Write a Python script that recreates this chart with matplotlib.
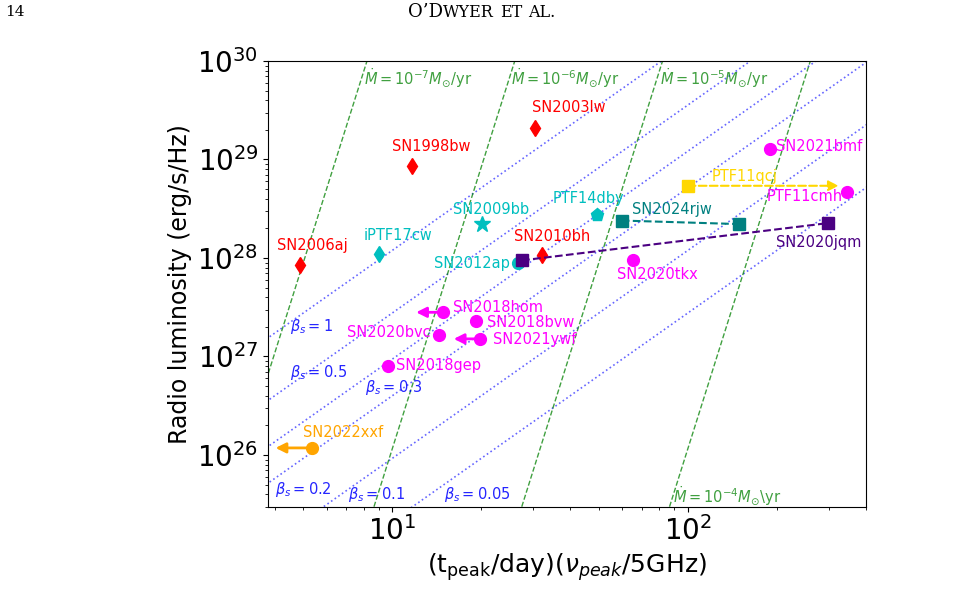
import numpy as np
import matplotlib
matplotlib.use("Agg")
import matplotlib.pyplot as plt

# ===== axis ranges =====
XLIM = (3.8, 400)
YLIM = (3e25, 1e30)

# ===== GRB-SNe (red diamonds) =====
RED_NAMES = ["SN2006aj", "SN1998bw", "SN2003lw", "SN2010bh"]
RED_X = [4.86, 11.7, 30.5, 32.1]
RED_L = [8.4e27, 8.5e28, 2.1e29, 1.08e28]

# ===== relativistic Ic-BL (cyan) =====
CYAN_NAMES = ["iPTF17cw", "SN2009bb", "SN2012ap", "PTF14dby"]
CYAN_X = [8.99, 20.2, 26.6, 49.5]
CYAN_L = [1.106e28, 2.23e28, 9.0e27, 2.75e28]

# ===== Ic-BL detections (magenta) =====
MAG_NAMES = ["SN2021bmf", "PTF11cmh", "SN2020tkx", "SN2018hom",
             "SN2018bvw", "SN2020bvc", "SN2021ywf", "SN2018gep"]
MAG_X = [190, 346, 65.5, 14.9, 19.2, 14.4, 19.8, 9.66]
MAG_L = [1.28e29, 4.63e28, 9.6e27, 2.81e27, 2.28e27, 1.67e27, 1.51e27, 7.96e26]
# upper limits in x -> arrow to the left
MAG_UL_NAMES = ["SN2018hom", "SN2021ywf"]
MAG_UL_XEND = [12.05, 16.15]

# ===== single objects =====
QCJ_X = [100, 324]          # PTF11qcj, lower limit -> arrow right
QCJ_L = 5.41e28
XXF_X = [5.34, 4.03]        # SN2022xxf, upper limit -> arrow left
XXF_L = 1.18e26
RJW_X = [59.8, 149]         # SN2024rjw, two epochs
RJW_L = [2.40e28, 2.21e28]
JQM_X = [27.5, 298]         # SN2020jqm, two epochs
JQM_L = [9.46e27, 2.26e28]

# ===== model lines =====
BETA_S = [1, 0.5, 0.3, 0.2, 0.1, 0.05]
BETA1_X_AT_1E30 = 81.5      # x where beta_s=1 crosses L=1e30
MDOT = [1e-7, 1e-6, 1e-5, 1e-4]
MDOT7_X_AT_1E28 = 5.06      # x where Mdot=1e-7 crosses L=1e28

BETA_LABELS = [r"$\beta_s=1$", r"$\beta_s=0.5$", r"$\beta_s=0.3$",
               r"$\beta_s=0.2$", r"$\beta_s=0.1$", r"$\beta_s=0.05$"]
MDOT_LABELS = [r"$\dot{M}=10^{-7}M_{\odot}$/yr", r"$\dot{M}=10^{-6}M_{\odot}$/yr",
               r"$\dot{M}=10^{-5}M_{\odot}$/yr", r"$\dot{M}=10^{-4}M_{\odot}$\yr"]

# text anchors (left / centre) in data coords
BETA_TXT = [(4.52, 2.02e27), (4.52, 6.92e26), (8.06, 4.8e26),
            (4.0, 4.44e25), (7.06, 3.95e25), (15.0, 3.95e25)]
MDOT_TXT = [(8.0, 6.6e29), (25.3, 6.6e29), (80.4, 6.6e29), (89, 3.8e25)]
NAME_TXT = {
    "SN2006aj": (4.07, 1.33e28), "SN1998bw": (10.0, 1.34e29),
    "SN2003lw": (29.8, 3.34e29), "SN2010bh": (25.9, 1.66e28),
    "iPTF17cw": (8.02, 1.68e28), "SN2009bb": (16.0, 3.09e28),
    "SN2012ap": (13.8, 8.75e27), "PTF14dby": (34.9, 4.06e28),
    "SN2024rjw": (64.7, 3.09e28), "PTF11qcj": (120.2, 6.72e28),
    "SN2021bmf": (199.2, 1.34e29), "PTF11cmh": (184.9, 4.21e28),
    "SN2020jqm": (199.2, 1.42e28), "SN2020tkx": (57.8, 6.77e27),
    "SN2018hom": (16.0, 3.11e27), "SN2018bvw": (20.9, 2.22e27),
    "SN2020bvc": (7.02, 1.74e27), "SN2021ywf": (21.9, 1.48e27),
    "SN2018gep": (10.3, 8.09e26), "SN2022xxf": (5.0, 1.68e26),
}
FS = 10.5


def label(ax, name, color):
    x, y = NAME_TXT[name]
    ax.text(x, y, name, color=color, fontsize=FS, ha="left", va="center", zorder=6)


def arrow(ax, x0, x1, y, color, ls="-", lw=2):
    ax.annotate("", xy=(x1, y), xytext=(x0, y),
                arrowprops=dict(arrowstyle="-|>", color=color, lw=lw, ls=ls,
                                mutation_scale=15, shrinkA=0, shrinkB=0), zorder=4)


fig = plt.figure(figsize=(9.79, 6.11), dpi=100)
ax = fig.add_axes([268 / 979, 1 - 506.5 / 611, 597.7 / 979, 445.5 / 611])
ax.set_xscale("log")
ax.set_yscale("log")

# model lines
xx = np.logspace(np.log10(XLIM[0]) - 0.3, np.log10(XLIM[1]) + 0.3, 2)
for b, lab, (tx, ty) in zip(BETA_S, BETA_LABELS, BETA_TXT):
    ax.plot(xx, 1e30 * (b * xx / BETA1_X_AT_1E30) ** (19 / 9), ":", color="blue", alpha=0.6, lw=1.2)
    ax.text(tx, ty, lab, color="blue", alpha=0.85, fontsize=FS, ha="left", va="center")
for m, lab, (tx, ty) in zip(MDOT, MDOT_LABELS, MDOT_TXT):
    xc = MDOT7_X_AT_1E28 * np.sqrt(m / 1e-7)
    ax.plot(xx, 1e28 * (xx / xc) ** 9.5, "--", color="green", alpha=0.75, lw=1.0)
    ax.text(tx, ty, lab, color="green", alpha=0.75, fontsize=FS, ha="left", va="center")

# GRB-SNe
ax.plot(RED_X, RED_L, "d", color="red", ms=8.5, ls="none", zorder=5)
for n in RED_NAMES:
    label(ax, n, "red")

# relativistic
for n, x, y, mk, ms in zip(CYAN_NAMES, CYAN_X, CYAN_L, ["d", "*", "o", "p"], [8.5, 12, 8.5, 9.5]):
    ax.plot(x, y, mk, color="c", ms=ms, zorder=5)
    label(ax, n, "c")

# Ic-BL
for n, x1 in zip(MAG_UL_NAMES, MAG_UL_XEND):
    i = MAG_NAMES.index(n)
    arrow(ax, MAG_X[i], x1, MAG_L[i], "magenta")
ax.plot(MAG_X, MAG_L, "o", color="magenta", ms=8.5, ls="none", zorder=5)
for n in MAG_NAMES:
    label(ax, n, "magenta")

# PTF11qcj
arrow(ax, QCJ_X[0], QCJ_X[1], QCJ_L, "gold", ls="--", lw=1.5)
ax.plot(QCJ_X[0], QCJ_L, "s", color="gold", ms=8, zorder=5)
label(ax, "PTF11qcj", "gold")

# SN2022xxf
arrow(ax, XXF_X[0], XXF_X[1], XXF_L, "orange")
ax.plot(XXF_X[0], XXF_L, "o", color="orange", ms=8.5, zorder=5)
label(ax, "SN2022xxf", "orange")

# SN2024rjw
ax.plot(RJW_X, RJW_L, "s--", color="teal", ms=8, lw=1.5, zorder=5)
label(ax, "SN2024rjw", "teal")

# SN2020jqm
ax.plot(JQM_X, JQM_L, "s--", color="indigo", ms=8, lw=1.5, zorder=5)
label(ax, "SN2020jqm", "indigo")

ax.set_xlim(*XLIM)
ax.set_ylim(*YLIM)
ax.tick_params(labelsize=20)
ax.set_xlabel(r"(t$_{\rm peak}$/day)($\nu_{peak}$/5GHz)", fontsize=18)
ax.set_ylabel("Radio luminosity (erg/s/Hz)", fontsize=17)

# page header (small caps imitation, word by word)
HY = 1 - 12 / 611
fig.text(5 / 979, HY, "14", family="DejaVu Serif", fontsize=11, va="center")
fig.text(443 / 979, HY, "O\u2019D", family="DejaVu Serif", fontsize=13, va="center", ha="right")
for word, px in [("WYER", 443), ("ET", 500), ("AL.", 528)]:
    fig.text(px / 979, HY - 0.5 / 611, word, family="DejaVu Serif", fontsize=11.5, va="center", ha="left")

fig.savefig("out.png", dpi=100)
